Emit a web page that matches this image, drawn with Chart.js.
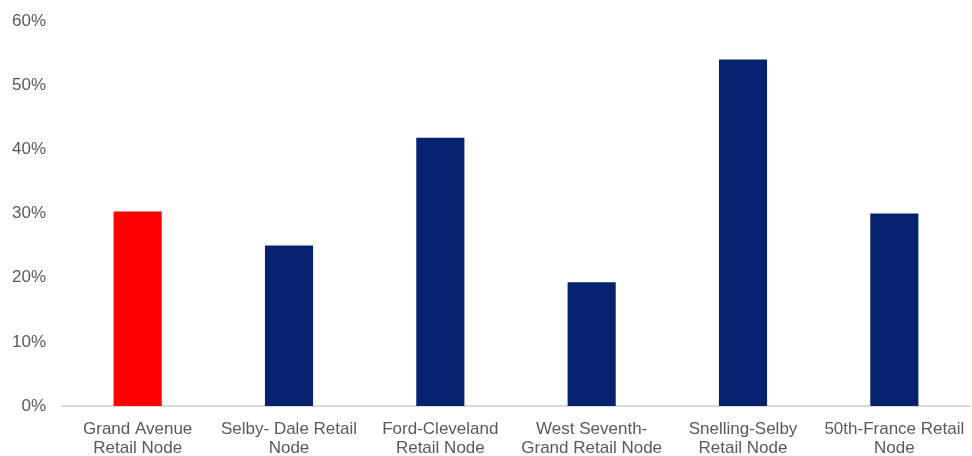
<!DOCTYPE html>
<html>
<head>
<meta charset="utf-8">
<script src="https://cdn.jsdelivr.net/npm/chart.js@4"></script>
<style>
  html, body { margin: 0; padding: 0; background: #fff; }
  #wrap { width: 972px; height: 456px; position: relative; }
</style>
</head>
<body>
<div id="wrap"><canvas id="mainChart"></canvas></div>
<script>
const CATEGORIES = [
  ['Grand Avenue', 'Retail Node'],
  ['Selby- Dale Retail', 'Node'],
  ['Ford-Cleveland', 'Retail Node'],
  ['West Seventh-', 'Grand Retail Node'],
  ['Snelling-Selby', 'Retail Node'],
  ['50th-France Retail', 'Node'],
];
const SHARE = [0.303, 0.250, 0.418, 0.193, 0.540, 0.300];
const BAR_COLORS = ['#ff0000', '#06226f', '#06226f', '#06226f', '#06226f', '#06226f'];
const Y_TICKS = [0, 0.1, 0.2, 0.3, 0.4, 0.5, 0.6];

const FONT = "'Liberation Sans', Arial, sans-serif";
const TEXT = '#595959';

new Chart(document.getElementById('mainChart'), {
  type: 'bar',
  data: {
    labels: CATEGORIES,
    datasets: [{
      data: SHARE,
      backgroundColor: BAR_COLORS,
      borderWidth: 0,
      barPercentage: 0.318,
      categoryPercentage: 1,
    }]
  },
  options: {
    responsive: true,
    maintainAspectRatio: false,
    animation: false,
    layout: { padding: { top: 21, right: 2, left: 0, bottom: 0 } },
    plugins: { legend: { display: false }, tooltip: { enabled: false } },
    scales: {
      x: {
        grid: { display: false, drawTicks: false },
        border: { display: true, color: '#d9d9d9', width: 2 },
        ticks: {
          color: TEXT, padding: 14, autoSkip: false, maxRotation: 0,
          font: { family: FONT, size: 17, lineHeight: '19px' },
        },
        afterFit: s => { s.height = 50; s.paddingLeft = 0; s.paddingRight = 0; },
      },
      y: {
        min: 0, max: 0.6,
        afterBuildTicks: s => { s.ticks = Y_TICKS.map(v => ({ value: v })); },
        grid: { display: false, drawTicks: false },
        border: { display: false },
        ticks: {
          color: TEXT, padding: 16,
          font: { family: FONT, size: 17 },
          callback: v => Math.round(v * 100) + '%',
        },
        afterFit: s => { s.width = 62; s.paddingTop = 10; s.paddingBottom = 0; },
      },
    }
  }
});
</script>
</body>
</html>
